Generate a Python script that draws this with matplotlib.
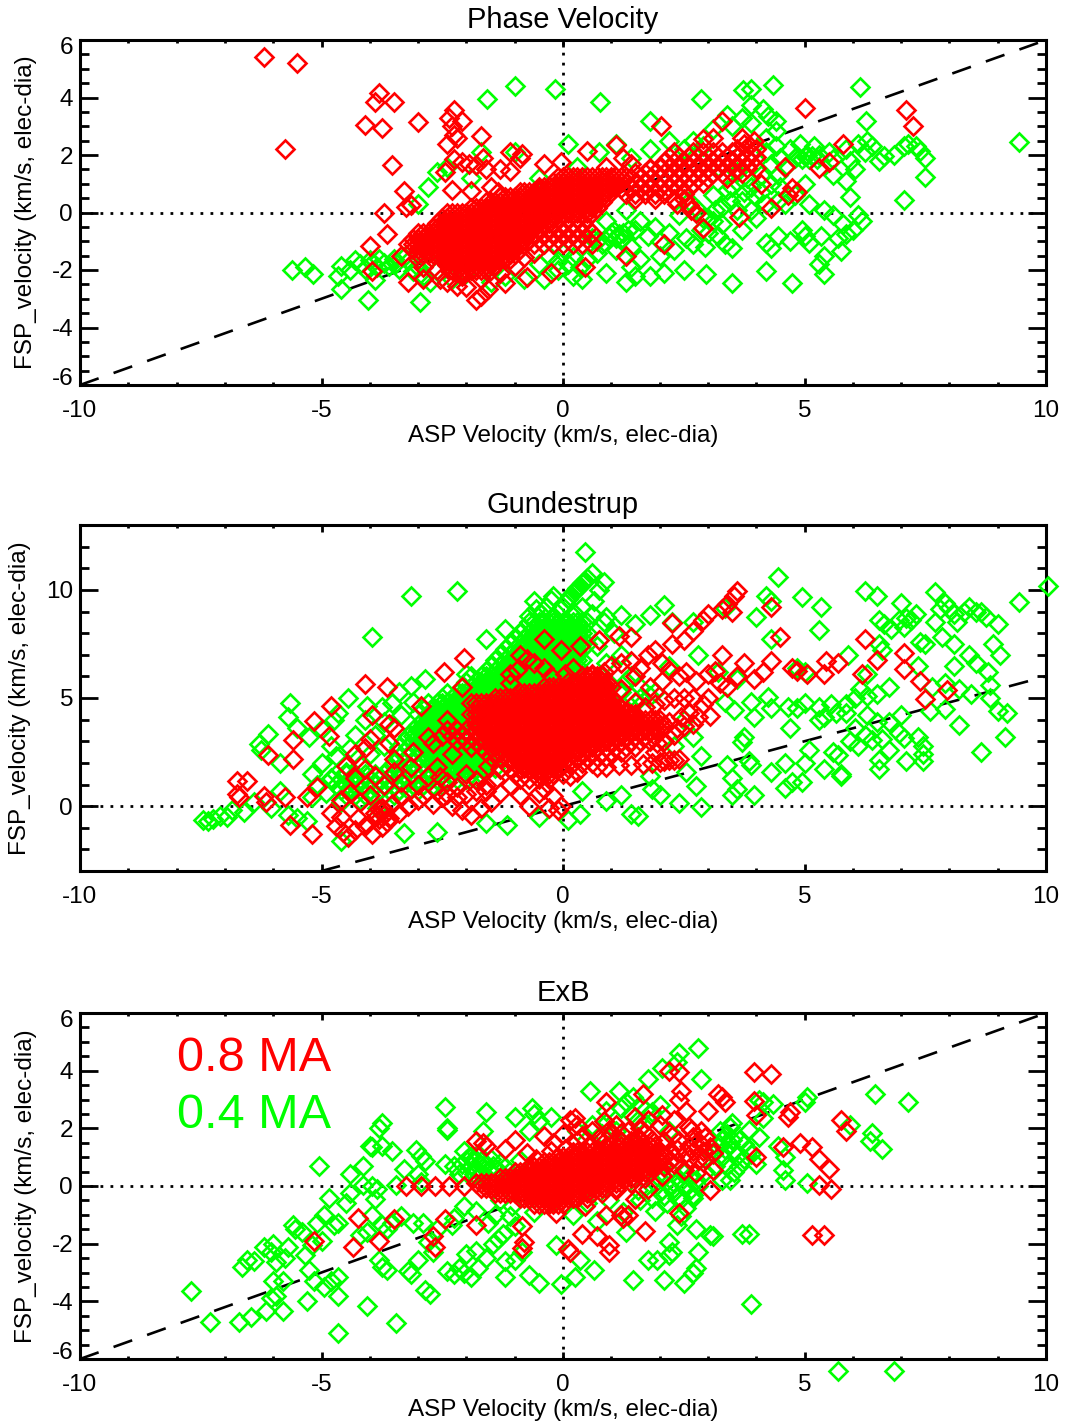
# -*- coding: utf-8 -*-
"""
ASP vs. FSP velocity comparison, three panels (0.8 MA / 0.4 MA)
Output: out.png
"""
import matplotlib
matplotlib.use('Agg')
import matplotlib.pyplot as plt
from matplotlib.transforms import ScaledTranslation
import numpy as np

plt.rcParams['font.family'] = ['Liberation Sans', 'DejaVu Sans']

# --- values (ASP, FSP) ---
phase_green = [
(-5.62,-2.0),(-5.34,-1.9),(-5.17,-2.15),(-4.6,-1.85),(-4.65,-2.2),(-4.6,-2.65),(-4.03,-3.05),(-2.96,-3.1),
(-4.4,-2.0),(-4.2,-1.8),(-4.0,-1.65),(-3.85,-1.9),(-3.7,-1.75),(-3.5,-1.6),(-3.4,-1.95),(-3.2,-1.7),(-3.0,-1.9),(-2.9,-2.2),(-3.9,-2.35),
(-4.3,-1.65),(-4.1,-1.95),(-3.95,-1.75),(-3.8,-1.6),(-3.6,-1.85),(-3.45,-1.75),(-3.3,-1.55),(-3.1,-2.05),(-2.8,-1.7),(-2.6,-2.0),(-2.75,-2.4),
(-3.0,0.3),(-2.8,0.9),(-2.6,1.4),(-2.4,1.6),(-2.3,-2.3),(-2.0,-2.1),(-1.7,2.1),(-1.9,1.2),(-1.58,3.95),(-0.99,4.4),(-0.17,4.3),(0.77,3.85),
(-1.0,2.1),(-0.5,1.2),(-0.3,0.9),(0.1,2.4),(0.3,1.6),(0.75,2.1),(1.1,2.4),(1.4,1.9),(1.8,3.2),(1.8,2.2),(2.2,2.5),(2.5,2.2),(2.7,2.5),
(-1.5,-2.4),(-1.2,-2.2),(-0.8,-2.3),(-0.4,-2.3),(-0.1,-2.0),(0.1,-1.8),(0.2,-2.2),(0.4,-2.3),(0.5,-1.6),(0.7,-1.4),(0.9,-2.1),(1.1,-1.3),(1.3,-2.4),(1.4,-1.9),(1.5,-2.2),(1.6,-1.6),(1.8,-2.2),(2.0,-1.5),(2.1,-2.1),(2.5,-2.0),(2.97,-2.15),(3.5,-2.45),(4.2,-2.05),(4.75,-2.45),(5.4,-2.15),(5.3,-1.8),(5.4,-1.5),
(-0.3,-1.5),(-0.1,-1.7),(0.0,-1.4),(0.2,-1.55),(-0.5,-1.8),(0.35,-1.9),(0.7,-1.0),(0.95,-0.85),(1.05,-0.65),(1.15,-0.75),(1.2,-0.95),(1.35,-0.6),
(0.6,-0.9),(0.8,-1.1),(1.0,-0.7),(1.1,-0.9),(1.25,-0.7),(1.4,-1.2),(1.5,-0.6),(1.6,-0.3),(1.75,-0.8),(1.9,-0.5),(2.0,-1.0),(2.2,-0.7),(2.3,-1.3),(2.4,-0.1),(2.55,-0.9),(2.7,-1.1),(2.85,-0.6),(2.95,-1.2),(3.1,-0.3),(3.2,-0.8),(3.35,-1.1),(3.5,-1.25),(3.7,-0.6),(0.9,-0.3),(1.3,0.1),
(2.6,0.4),(2.8,0.1),(3.0,-0.2),(3.1,0.6),(3.3,0.2),(3.5,0.9),(3.7,0.4),(3.9,0.1),(4.0,-0.2),(4.2,0.3),(4.5,0.9),(4.8,0.6),(5.0,1.0),(5.1,0.3),(5.4,0.1),(5.6,-0.1),(5.8,-0.4),(6.1,-0.1),(6.2,-0.3),(6.0,-0.6),(5.85,-0.75),(5.7,-0.9),(5.75,-1.35),
(2.9,-0.2),(3.0,-0.7),(3.15,0.1),(3.3,-0.4),(3.45,0.4),(3.6,0.1),(3.75,0.7),(3.95,0.6),(4.1,0.7),(4.3,1.0),(4.45,0.4),(4.6,0.3),(3.8,1.2),(4.3,1.7),(4.45,1.3),
(4.2,-1.05),(4.3,-1.25),(4.45,-0.8),(4.7,-1.0),(4.95,-0.6),(5.0,-0.8),(5.1,-1.05),(5.35,-0.8),
(2.86,3.95),(3.73,4.25),(3.89,4.3),(4.34,4.45),(3.9,3.75),(4.15,3.6),(4.25,3.35),(3.4,3.4),(3.7,3.3),(3.1,2.9),(3.5,3.0),(3.9,3.1),(4.4,3.2),(4.4,2.85),(4.2,2.6),(6.15,4.35),(6.27,3.2),
(2.9,2.3),(3.2,1.6),(3.4,0.8),(3.6,1.4),(3.9,0.9),(4.1,1.3),(4.2,2.1),(4.4,2.3),(4.5,1.9),(4.6,1.6),(4.7,2.2),(4.8,1.9),(4.9,2.4),(5.0,1.95),(5.1,1.85),(5.2,2.3),(5.3,2.0),(5.5,2.1),(5.6,1.85),(5.85,2.2),(5.95,1.8),(6.05,1.5),(6.1,2.4),(6.25,2.1),(6.3,2.5),(6.4,2.3),(6.55,1.8),(6.65,1.95),(6.85,2.0),(7.05,2.3),(7.15,2.4),(7.3,2.3),(7.4,2.15),(7.5,1.9),(7.5,1.25),(7.05,0.45),
(4.85,1.95),(4.95,1.85),(5.05,2.0),(5.15,1.95),(5.25,1.85),
(5.6,1.3),(5.85,1.1),(5.95,0.55),(9.44,2.45),
]
phase_red = [
(-6.2,5.4),(-5.5,5.2),(-3.8,4.15),(-3.9,3.85),(-3.5,3.85),(-4.1,3.05),(-3.75,2.95),(-3.0,3.15),(-5.75,2.2),(-3.55,1.65),
(-2.25,3.55),(-2.35,3.3),(-2.3,3.0),(-2.1,3.2),(-2.25,2.7),(-2.2,2.6),(-2.4,2.4),(-1.7,2.65),(-2.25,1.85),(-2.45,1.4),(-2.1,1.75),(-1.95,1.7),(-1.8,1.65),(-1.65,1.9),(-1.6,1.5),(-1.3,1.5),(-1.1,1.45),(-1.1,2.1),(-0.9,1.9),(-0.85,2.05),(-0.4,1.7),(-0.05,1.75),(0.5,2.15),(0.9,1.6),(1.1,2.35),(1.25,1.9),(1.4,1.7),(1.8,1.5),
(-3.3,0.75),(-3.25,0.2),(-3.15,0.25),(-3.7,0.0),(-3.65,-0.75),(-4.0,-1.15),(-3.35,-1.5),(-3.95,-2.05),(-3.2,-2.4),(-2.9,-2.3),(-2.55,-2.3),(-2.4,-2.4),(-2.2,-2.55),(-2.0,-2.6),(-1.8,-3.05),(-1.7,-2.9),(-1.55,-2.65),(-1.2,-2.45),(-0.75,-2.25),(-0.25,-2.1),(0.45,-1.9),(-2.3,0.8),(-1.9,0.75),(-1.5,0.9),(-1.35,0.7),(-0.9,0.7),(-0.5,0.8),
(-1.3,-2.1),(-1.7,-2.3),(-2.1,-2.2),(-1.0,-1.85),(-0.8,-1.55),(-0.6,-1.4),(-2.9,-1.9),(-2.6,-2.0),(-3.0,-1.6),
(3.6,2.2),(3.7,2.6),(3.85,2.35),(3.95,2.5),(4.0,2.2),(3.75,2.4),(2.65,0.1),(2.75,0.0),(2.6,0.25),(2.35,0.3),
(3.1,2.6),(2.9,2.55),(3.3,3.2),(2.03,3.0),(4.3,0.15),(4.1,1.0),(3.65,-0.15),(2.9,-0.55),(2.1,-1.1),(1.3,-1.5),(5.0,3.65),(7.1,3.55),(7.25,3.0),(5.8,2.4),(5.5,1.75),(5.3,1.55),(4.6,1.6),(4.75,0.85),(4.65,0.6),(4.85,0.7),
]
# dense part of the red cloud, given row by row: (FSP, [ASP, ...])
phase_red_core = [
(1.25,[-0.1,0.0,0.1,0.2,0.3,0.4,0.5,0.6,0.7,0.8,0.9,1.0,1.1,1.2,1.3]),
(1.07,[-0.2,-0.1,0.0,0.1,0.2,0.3,0.4,0.5,0.6,0.7,0.8,0.9,1.0,1.1,1.2]),
(0.89,[-0.5,-0.4,-0.3,-0.2,-0.1,0.0,0.1,0.2,0.3,0.4,0.5,0.6,0.7,0.8,0.9,1.0,1.1]),
(0.71,[-0.8,-0.7,-0.6,-0.5,-0.4,-0.3,-0.2,-0.1,0.0,0.1,0.2,0.3,0.4,0.5,0.6,0.7,0.8,0.9,1.0]),
(0.53,[-1.3,-1.2,-1.1,-1.0,-0.9,-0.8,-0.7,-0.6,-0.5,-0.4,-0.3,-0.2,-0.1,0.0,0.1,0.2,0.3,0.4,0.5,0.6,0.7,0.8,0.9]),
(0.35,[-1.6,-1.5,-1.4,-1.3,-1.2,-1.1,-1.0,-0.9,-0.8,-0.7,-0.6,-0.5,-0.4,-0.3,-0.2,-0.1,0.0,0.1,0.2,0.3,0.4,0.5,0.6,0.7,0.8]),
(0.17,[-1.9,-1.8,-1.7,-1.6,-1.5,-1.4,-1.3,-1.2,-1.1,-1.0,-0.9,-0.8,-0.7,-0.6,-0.5,-0.4,-0.3,-0.2,-0.1,0.0,0.1,0.2,0.3,0.4,0.5,0.6,0.7]),
(-0.01,[-2.4,-2.3,-2.2,-2.1,-2.0,-1.9,-1.8,-1.7,-1.6,-1.5,-1.4,-1.3,-1.2,-1.1,-1.0,-0.9,-0.8,-0.7,-0.6,-0.5,-0.4,-0.3,-0.2,-0.1,0.0,0.1,0.2,0.3,0.4,0.5,0.6]),
(-0.19,[-2.5,-2.4,-2.3,-2.2,-2.1,-2.0,-1.9,-1.8,-1.7,-1.6,-1.5,-1.4,-1.3,-1.2,-1.1,-1.0,-0.9,-0.8,-0.7,-0.6,-0.5,-0.4,-0.3,-0.2,-0.1,0.1,0.3,0.5]),
(-0.37,[-2.6,-2.5,-2.4,-2.3,-2.2,-2.1,-2.0,-1.9,-1.8,-1.7,-1.6,-1.5,-1.4,-1.3,-1.2,-1.1,-1.0,-0.9,-0.8,-0.7,-0.6,-0.5,-0.4,-0.3,-0.2,0.0,0.2,0.4]),
(-0.55,[-2.7,-2.6,-2.5,-2.4,-2.3,-2.2,-2.1,-2.0,-1.9,-1.8,-1.7,-1.6,-1.5,-1.4,-1.3,-1.2,-1.1,-1.0,-0.9,-0.8,-0.7,-0.6,-0.5,-0.3,-0.1,0.1,0.3,0.5]),
(-0.73,[-3.0,-2.9,-2.8,-2.7,-2.6,-2.5,-2.4,-2.3,-2.2,-2.1,-2.0,-1.9,-1.8,-1.7,-1.6,-1.5,-1.4,-1.3,-1.2,-1.1,-1.0,-0.9,-0.8,-0.7,-0.6,-0.4,-0.2,0.0,0.2,0.4,0.6]),
(-0.91,[-3.1,-3.0,-2.9,-2.8,-2.7,-2.6,-2.5,-2.4,-2.3,-2.2,-2.1,-2.0,-1.9,-1.8,-1.7,-1.6,-1.5,-1.4,-1.3,-1.2,-1.1,-1.0,-0.9,-0.8,-0.7,-0.5,-0.3,-0.1,0.1,0.3,0.5]),
(-1.09,[-3.2,-3.1,-3.0,-2.9,-2.8,-2.7,-2.6,-2.5,-2.4,-2.3,-2.2,-2.1,-2.0,-1.9,-1.8,-1.7,-1.6,-1.5,-1.4,-1.3,-1.2,-1.1,-1.0,-0.9,-0.8,-0.6,-0.4,-0.2,0.0,0.2,0.4,0.6]),
(-1.27,[-3.1,-3.0,-2.9,-2.8,-2.7,-2.6,-2.5,-2.4,-2.3,-2.2,-2.1,-2.0,-1.9,-1.8,-1.7,-1.6,-1.5,-1.4,-1.3,-1.2,-1.1,-1.0,-0.9]),
(-1.45,[-3.0,-2.9,-2.8,-2.7,-2.6,-2.5,-2.4,-2.3,-2.2,-2.1,-2.0,-1.9,-1.8,-1.7,-1.6,-1.5,-1.4,-1.3,-1.2,-1.1,-1.0]),
(-1.63,[-2.5,-2.4,-2.3,-2.2,-2.1,-2.0,-1.9,-1.8,-1.7,-1.6,-1.5,-1.4,-1.3,-1.2,-1.1]),
(-1.81,[-2.4,-2.3,-2.2,-2.1,-2.0,-1.9,-1.8,-1.7,-1.6,-1.5,-1.4]),
(-1.99,[-2.3,-2.2,-2.1,-2.0,-1.9,-1.8,-1.7,-1.6,-1.5]),
# right-hand branch, looser
(2.1,[2.3,2.7,2.9,3.1,3.3,3.5,3.7,3.9]),
(1.92,[2.2,2.4,2.6,2.8,3.0,3.2,3.4,3.6,3.8,4.0]),
(1.74,[2.1,2.3,2.5,2.7,2.9,3.1,3.3,3.5,3.7,3.9]),
(1.56,[1.8,2.0,2.2,2.4,2.6,2.8,3.0,3.2,3.4,3.6,3.8,4.0]),
(1.38,[1.5,1.7,1.9,2.1,2.3,2.5,2.7,2.9,3.1,3.3,3.5,3.7]),
(1.2,[1.4,1.6,1.8,2.0,2.2,2.4,2.6,2.8,3.0,3.4]),
(1.02,[1.3,1.5,1.7,1.9,2.1,2.3,2.5,2.7,2.9]),
(0.84,[1.2,1.4,1.6,1.8,2.0,2.2,2.4,2.6]),
(0.66,[1.3,1.5,1.7,1.9,2.1,2.5]),
(0.48,[1.5,1.9,2.3,2.5]),
]
gund_green = [
(-7.45,-0.65),(-7.35,-0.7),(-7.25,-0.6),(-7.1,-0.45),(-6.95,-0.5),(-6.85,-0.2),(-6.6,-0.25),(-6.4,0.2),(-6.05,-0.1),(-5.85,0.7),
(-5.7,-0.4),(-5.5,-0.55),(-5.3,-0.7),(-5.2,0.4),(-4.6,-1.6),(-3.3,-1.25),(-2.6,-1.2),(-1.6,-0.8),(-1.15,-0.85),(-0.5,-0.5),(0.1,-0.65),(0.35,-0.35),(1.4,-0.35),(1.55,-0.45),(2.4,0.15),(2.85,-0.05),(0.9,0.25),(1.2,0.5),(0.4,0.7),
(-6.3,2.85),(-6.25,2.6),(-6.1,3.35),(-5.85,2.0),(-5.65,4.75),(-5.7,4.1),(-5.5,3.6),(-5.25,3.2),(-5.0,3.55),(-4.8,2.8),(-4.75,4.0),(-4.65,4.3),(-4.45,5.0),(-4.1,4.0),(-4.05,4.65),(-3.75,4.6),(-3.55,4.75),(-3.4,5.3),(-3.15,5.55),(-2.85,5.9),(-2.0,6.1),(-3.95,7.8),(-3.15,9.7),(-2.2,9.95),(-1.6,7.75),(-1.2,8.2),
(-5.2,1.5),(-5.1,1.0),(-5.0,2.0),(-4.9,0.6),(-4.8,1.3),(-4.7,2.3),(-4.6,0.2),(-4.5,1.6),(-4.4,2.7),(-4.4,0.9),(-4.3,3.3),(-4.2,1.9),(-4.2,0.3),(-4.0,2.4),(-3.9,3.3),(-3.85,-0.1),(-3.7,3.9),(-3.7,2.8),(-3.35,4.2),(-3.1,4.8),
(-0.6,9.5),(-0.45,8.9),(-0.35,9.2),(-0.25,9.55),(-0.2,8.8),(-0.2,9.7),(-0.05,9.1),(0.05,9.4),(0.1,9.6),(0.15,9.7),(0.2,9.85),(0.25,9.95),(0.3,10.1),(0.35,10.2),(0.4,10.3),(0.4,9.2),(0.45,10.4),(0.5,10.55),(0.6,10.8),(0.6,8.9),(0.65,9.5),(0.85,10.35),(0.75,10.0),(0.45,11.75),(0.25,8.9),(-0.7,8.8),(-0.55,9.1),
(0.7,7.4),(0.85,8.5),(0.9,8.75),(1.05,8.0),(1.2,8.85),(1.5,8.4),(1.8,8.85),(2.1,9.3),(2.25,8.5),(2.7,8.5),(3.35,9.15),(0.9,6.6),(1.2,7.0),(1.4,6.0),(1.6,5.5),(1.9,5.3),(2.2,6.5),(2.8,7.0),(3.2,6.2),(3.6,5.9),(3.35,4.8),(3.55,4.45),(3.9,4.8),(3.95,4.1),(3.75,3.2),(3.7,2.95),
(1.0,5.6),(1.2,5.3),(1.4,5.1),(1.6,5.0),(1.8,5.1),(1.3,5.8),
(2.5,4.0),(2.7,3.2),(2.3,2.8),(2.85,2.3),(3.4,1.9),(2.55,1.6),(2.75,0.95),(1.8,1.4),(1.85,0.8),(2.0,0.5),(3.5,1.3),(3.6,0.8),(3.5,0.5),(3.95,0.5),(3.9,1.9),(3.85,2.1),(4.3,1.6),(4.6,2.0),(4.6,0.85),(4.75,1.1),(4.95,1.1),(5.0,2.0),(5.1,2.6),(5.4,1.7),(5.75,1.5),(5.75,1.4),(5.7,2.35),(5.6,2.5),(6.55,2.15),(6.75,2.6),(6.55,1.7),(7.1,2.1),(7.45,2.4),(7.45,2.1),(7.45,2.8),(8.65,2.5),(9.15,3.2),(8.2,3.75),
(4.3,4.55),(4.25,5.05),(4.65,4.6),(4.85,4.55),(5.0,4.75),(5.3,4.6),(5.55,4.7),(5.85,4.7),(5.3,4.0),(5.4,4.1),(5.65,4.3),(4.7,3.6),(5.85,4.3),(6.05,3.6),(6.3,4.2),(6.5,3.9),(6.75,3.9),(6.25,3.3),(6.4,3.05),(6.6,3.1),(5.95,3.0),(6.1,2.8),(6.95,3.4),(7.05,3.15),(7.35,3.2),(7.0,4.2),(7.6,4.4),(7.9,4.5),(6.3,5.1),(6.5,5.2),(6.75,5.5),(6.15,5.4),(6.3,6.1),(6.05,5.0),(7.35,6.5),(7.65,5.5),(7.9,5.7),(8.2,5.4),(8.45,5.2),(8.85,5.6),(8.85,5.0),(9.0,4.4),(9.2,4.3),
(4.0,8.75),(4.2,9.7),(4.3,9.5),(4.45,10.6),(4.95,9.65),(5.35,9.2),(5.3,8.15),(4.3,7.75),(4.85,6.4),(5.0,6.2),(5.9,7.0),(6.25,9.95),(6.5,9.7),(6.55,8.6),(6.65,8.4),(6.8,8.2),(6.95,8.6),(7.0,9.4),(7.1,8.7),(7.05,8.3),(7.2,8.6),(7.3,8.9),(7.4,7.6),(7.5,7.5),(6.55,7.5),(6.6,7.2),(7.7,8.5),(7.7,9.9),(7.8,9.1),(7.9,9.4),(8.0,9.15),(8.1,8.9),(8.15,8.5),(8.3,9.0),(8.4,9.2),(8.55,9.0),(8.65,9.0),(8.75,8.75),(8.9,7.5),(9.05,7.0),(9.0,8.4),(9.45,9.45),(10.05,10.2),(7.85,7.8),(8.1,7.5),(8.4,7.0),(8.1,6.5),(8.55,6.6),(8.8,6.2),
]
gund_green_core = [
(8.5,[-0.7,-0.6,-0.5,-0.4,-0.3,-0.2,-0.1,0.0,0.1,0.2,0.3,0.4,0.5]),
(8.25,[-0.8,-0.6,-0.5,-0.4,-0.3,-0.2,-0.1,0.0,0.1,0.2,0.3,0.4]),
(8.0,[-0.9,-0.7,-0.6,-0.5,-0.4,-0.3,-0.2,-0.1,0.0,0.1,0.2,0.3,0.4,0.5]),
(7.75,[-1.0,-0.8,-0.7,-0.6,-0.5,-0.4,-0.3,-0.2,-0.1,0.0,0.1,0.2,0.3,0.4]),
(7.5,[-1.1,-0.9,-0.8,-0.7,-0.6,-0.5,-0.4,-0.3,-0.2,-0.1,0.0,0.1,0.2,0.3,0.4,0.5]),
(7.25,[-1.2,-1.0,-0.9,-0.8,-0.7,-0.6,-0.5,-0.4,-0.3,-0.2,-0.1,0.0,0.1,0.2,0.3,0.4]),
(7.0,[-1.3,-1.1,-1.0,-0.9,-0.8,-0.7,-0.6,-0.5,-0.4,-0.3,-0.2,-0.1,0.0,0.1,0.2,0.3]),
(6.75,[-1.4,-1.2,-1.1,-1.0,-0.9,-0.8,-0.7,-0.6,-0.5,-0.4,-0.3,-0.2,-0.1,0.0,0.1,0.2,0.3,0.4]),
(6.5,[-1.5,-1.3,-1.2,-1.1,-1.0,-0.9,-0.8,-0.7,-0.6,-0.5,-0.4,-0.3,-0.2,-0.1,0.0,0.1,0.2,0.3]),
(6.25,[-1.6,-1.4,-1.3,-1.2,-1.1,-1.0,-0.9,-0.8,-0.7,-0.6,-0.5,-0.4,-0.3,-0.2,-0.1,0.0,0.1,0.2]),
(6.0,[-1.9,-1.7,-1.6,-1.5,-1.4,-1.3,-1.2,-1.1,-1.0,-0.9,-0.8,-0.7,-0.6,-0.5,-0.4,-0.3,-0.2,-0.1,0.0,0.1]),
(5.75,[-2.0,-1.8,-1.7,-1.6,-1.5,-1.4,-1.3,-1.2,-1.1,-1.0,-0.9,-0.8,-0.7,-0.6,-0.4,-0.2,0.0]),
(5.5,[-2.1,-1.9,-1.8,-1.7,-1.6,-1.5,-1.4,-1.3,-1.2,-1.1,-1.0,-0.9,-0.7,-0.5]),
(5.25,[-2.4,-2.2,-2.1,-2.0,-1.9,-1.8,-1.7,-1.6,-1.5,-1.4,-1.3,-1.2,-1.0]),
(5.0,[-2.5,-2.3,-2.2,-2.1,-2.0,-1.9,-1.8,-1.7,-1.6,-1.5]),
(4.75,[-2.8,-2.6,-2.5,-2.4,-2.3,-2.2,-2.1,-2.0,-1.9,-1.8]),
(4.5,[-2.9,-2.7,-2.6,-2.5,-2.4,-2.3,-2.2,-2.1,-2.0,-1.9]),
(4.25,[-3.0,-2.8,-2.7,-2.6,-2.5,-2.4,-2.3,-2.2,-2.1,-2.0,-1.8]),
(4.0,[-2.9,-2.8,-2.7,-2.6,-2.5,-2.4,-2.3,-2.2,-2.1,-2.0,-1.9]),
(3.75,[-3.0,-2.9,-2.8,-2.7,-2.6,-2.5,-2.4,-2.3,-2.2,-2.1,-2.0]),
(3.5,[-3.1,-3.0,-2.9,-2.8,-2.7,-2.6,-2.5,-2.4,-2.3]),
(3.25,[-3.2,-3.1,-3.0,-2.9,-2.8,-2.7,-2.6]),
(3.0,[-3.3,-3.1,-3.0,-2.9,-2.8,-2.7,-2.6,-2.5,-2.4,-2.3]),
(2.75,[-3.4,-3.2,-3.0,-2.9,-2.8,-2.7,-2.6,-2.5,-2.4,-2.3,-2.2,-2.1,-2.0,-1.9,-1.8]),
(2.5,[-3.3,-3.1,-2.9,-2.8,-2.7,-2.6,-2.5,-2.4,-2.3,-2.2,-2.1,-2.0,-1.9,-1.8,-1.7]),
(2.25,[-3.4,-3.2,-3.0,-2.8,-2.7,-2.6,-2.5,-2.4,-2.3,-2.2,-2.1,-2.0,-1.9,-1.8,-1.7,-1.6,-1.5,-1.4]),
(2.0,[-3.5,-3.3,-3.1,-2.9,-2.7,-2.6,-2.5,-2.4,-2.3,-2.2,-2.1,-2.0,-1.9,-1.8,-1.7,-1.6,-1.5]),
(1.75,[-3.6,-3.4,-3.2,-3.0,-2.8,-2.6,-2.5,-2.4,-2.3,-2.2,-2.1,-2.0,-1.9,-1.8,-1.7,-1.6,-1.4]),
(1.5,[-4.7,-4.5,-4.3,-4.1,-3.9,-3.7,-3.5,-3.3,-3.1,-2.9,-2.7,-2.5,-2.3,-2.1,-1.9,-1.7]),
(1.25,[-4.8,-4.6,-4.4,-4.2,-4.0,-3.8,-3.6,-3.4,-3.2,-3.0,-2.8,-2.6,-2.4,-2.2,-2.0,-1.8]),
(1.0,[-4.7,-4.5,-4.3,-4.1,-3.9,-3.7,-3.5,-3.3,-3.1,-2.9,-2.7,-2.5]),
(0.75,[-4.6,-4.4,-4.2,-4.0,-3.8,-3.6,-3.4,-3.2,-3.0]),
(0.5,[-4.5,-4.3,-4.1,-3.9,-3.7,-3.5]),
]
gund_red = [
(-6.75,1.15),(-6.55,1.15),(-6.75,0.55),(-6.7,0.4),(-6.2,0.45),(-6.15,0.2),(-5.75,0.4),(-6.1,2.35),(-5.6,3.05),(-5.6,2.2),(-5.65,-0.85),(-5.2,-1.3),(-5.15,3.95),(-4.85,3.25),(-4.8,4.65),(-5.1,0.9),(-5.3,0.4),(-4.1,5.65),(-3.65,5.5),(-3.95,4.2),(-3.6,3.8),(-3.5,3.6),(-2.95,4.65),(-2.47,6.2),(-2.05,6.85),(-2.1,5.5),(-2.4,4.0),(-4.0,3.1),(-3.6,2.9),
(-4.8,-0.3),(-4.7,-0.9),(-4.55,-1.2),(-4.45,-1.45),(-4.3,-1.1),(-4.1,-0.9),(-3.95,-1.3),(-3.75,-0.95),(-3.6,-0.55),(-4.6,0.3),(-4.4,0.6),(-4.2,0.2),(-4.0,0.5),(-3.9,-0.3),(-3.8,-0.6),(-3.7,-0.2),(-3.55,0.1),(-3.35,0.4),(-3.2,0.0),(-3.0,0.3),(-2.9,0.5),(-2.7,0.1),(-2.5,0.4),(-2.3,0.0),(-2.1,-0.2),(-1.9,-0.4),(-1.7,-0.1),(-1.5,0.2),(-1.3,0.6),(-1.1,1.0),(-0.9,0.5),(-0.7,0.0),(-0.5,0.6),(-0.3,-0.1),(-0.1,-0.2),(-0.05,0.0),
(-4.5,1.85),(-4.3,1.3),(-4.1,1.7),(-3.9,1.4),(-3.7,1.0),(-3.5,1.6),(-3.35,1.1),(-3.15,1.8),(-3.0,1.0),(-2.8,1.4),(-2.6,1.8),(-2.4,1.1),(-2.2,0.9),(-2.0,1.5),(-1.8,1.2),(-1.6,0.7),(-1.4,1.2),(-4.3,2.4),(-4.1,2.7),(-3.5,2.2),(-3.1,2.5),(-2.8,3.2),(-2.7,2.9),(-2.3,2.4),(-2.2,3.0),(-0.4,0.8),(-0.2,0.45),
(-3.85,-0.45),(-3.75,-0.1),(-3.7,-0.4),(-3.8,-0.15),(-3.65,-0.75),(-2.6,0.7),(-2.4,0.55),(-2.2,0.4),(-2.0,0.55),(-1.8,0.7),(-1.6,1.0),(-4.6,-0.5),(-4.25,-0.55),(-3.4,-0.3),
(-0.9,7.0),(-0.75,6.8),(-0.6,6.6),(-0.4,6.4),(-0.25,6.0),(-1.1,6.1),(-0.95,6.3),(-1.1,5.7),(-0.4,7.75),(-0.05,7.2),(0.35,7.4),(0.75,7.7),(1.15,7.85),(1.4,7.8),(0.05,6.1),(0.2,6.4),(0.5,5.8),(0.6,6.1),(0.85,6.2),(1.0,6.5),(1.2,6.6),(1.4,6.7),(1.6,6.4),(1.75,7.0),(1.9,7.2),(2.05,6.6),(2.25,7.5),(2.5,7.7),(2.7,8.1),(2.9,8.6),(3.0,8.9),(3.3,9.1),(3.4,9.35),(3.55,9.7),(3.6,9.95),(3.5,9.0),
(2.25,8.45),(4.3,9.2),(4.5,7.8),(3.3,7.0),(3.75,6.6),(3.6,6.0),(3.95,5.9),(4.15,6.2),(4.3,6.7),(4.75,6.4),(4.85,6.25),(5.05,6.1),(5.4,6.1),(5.45,6.7),(5.7,6.6),(6.2,6.1),(6.25,7.75),(6.5,6.75),(7.05,7.1),(7.05,6.35),(7.4,5.8),(7.5,4.95),(7.95,5.35),
(2.2,6.3),(2.4,6.0),(2.55,6.2),(2.75,5.8),(3.0,6.1),(3.15,6.25),(3.4,5.5),(3.25,5.7),(3.0,5.0),(2.9,4.7),(2.7,5.0),(2.5,5.0),(2.3,5.0),(2.1,4.9),(1.9,4.7),(1.7,4.6),(1.5,4.8),(2.05,5.8),(1.8,5.5),(1.2,5.4),(1.5,6.0),(2.8,4.1),(2.6,4.3),(2.45,4.1),(3.05,4.15),(2.2,3.9),(2.35,3.6),
(2.4,2.2),(2.3,2.15),(2.2,2.15),(2.1,2.1),(2.0,2.05),(1.85,2.0),(1.65,1.95),(1.4,1.9),(1.15,1.9),(0.9,1.8),(0.7,1.8),(0.3,1.6),(0.15,1.4),(-1.3,1.7),(-1.55,1.85),(-2.55,1.35),
(1.9,2.5),(2.1,3.0),(2.3,3.3),(2.5,3.7),(2.7,3.8),(1.95,2.9),
]
gund_red_core = [
(6.0,[0.4,0.5,0.6,0.7,0.8]),
(5.75,[0.1,0.2,0.3,0.4,0.5,0.6,0.7,0.8,0.9]),
(5.5,[-0.4,-0.3,-0.2,-0.1,0.0,0.1,0.2,0.3,0.4,0.5,0.6,0.7,0.8,0.9,1.0]),
(5.25,[-0.9,-0.8,-0.7,-0.6,-0.5,-0.4,-0.3,-0.2,-0.1,0.0,0.1,0.2,0.3,0.4,0.5,0.6,0.7,0.8,0.9]),
(5.0,[-1.4,-1.3,-1.2,-1.1,-1.0,-0.9,-0.8,-0.7,-0.6,-0.5,-0.4,-0.3,-0.2,-0.1,0.0,0.1,0.2,0.3,0.4,0.5,0.6,0.7,0.8,0.9,1.0]),
(4.75,[-1.9,-1.8,-1.7,-1.6,-1.5,-1.4,-1.3,-1.2,-1.1,-1.0,-0.9,-0.8,-0.7,-0.6,-0.5,-0.4,-0.3,-0.2,-0.1,0.0,0.1,0.2,0.3,0.4,0.5,0.6,0.7,0.8,0.9,1.0,1.1]),
(4.5,[-1.8,-1.7,-1.6,-1.5,-1.4,-1.3,-1.2,-1.1,-1.0,-0.9,-0.8,-0.7,-0.6,-0.5,-0.4,-0.3,-0.2,-0.1,0.0,0.1,0.2,0.3,0.4,0.5,0.6,0.7,0.8,0.9,1.0,1.1,1.2]),
(4.25,[-1.9,-1.8,-1.7,-1.6,-1.5,-1.4,-1.3,-1.2,-1.1,-1.0,-0.9,-0.8,-0.7,-0.6,-0.5,-0.4,-0.3,-0.2,-0.1,0.0,0.1,0.2,0.3,0.4,0.5,0.6,0.7,0.8,0.9,1.0,1.1,1.2,1.3,1.4,1.5]),
(4.0,[-1.8,-1.7,-1.6,-1.5,-1.4,-1.3,-1.2,-1.1,-1.0,-0.9,-0.8,-0.7,-0.6,-0.5,-0.4,-0.3,-0.2,-0.1,0.0,0.1,0.2,0.3,0.4,0.5,0.6,0.7,0.8,0.9,1.0,1.1,1.2,1.3,1.4,1.5,1.6,1.7,1.8,1.9,2.0]),
(3.75,[-1.9,-1.8,-1.7,-1.6,-1.5,-1.4,-1.3,-1.2,-1.1,-1.0,-0.9,-0.8,-0.7,-0.6,-0.5,-0.4,-0.3,-0.2,-0.1,0.0,0.1,0.2,0.3,0.4,0.5,0.6,0.7,0.8,0.9,1.0,1.1,1.2,1.3,1.4,1.5,1.6,1.7,1.8,1.9,2.0,2.1]),
(3.5,[-2.4,-2.2,-2.0,-1.8,-1.7,-1.6,-1.5,-1.4,-1.3,-1.2,-1.1,-1.0,-0.9,-0.8,-0.7,-0.6,-0.5,-0.4,-0.3,-0.2,-0.1,0.0,0.1,0.2,0.3,0.4,0.5,0.6,0.7,0.8,0.9,1.0,1.1,1.2,1.3,1.4,1.5,1.6,1.7,1.8,1.9,2.0]),
(3.25,[-2.5,-2.3,-2.1,-1.9,-1.7,-1.6,-1.5,-1.4,-1.3,-1.2,-1.1,-1.0,-0.9,-0.8,-0.7,-0.6,-0.5,-0.4,-0.3,-0.2,-0.1,0.0,0.1,0.2,0.3,0.4,0.5,0.6,0.7,0.8,0.9,1.0,1.1,1.2,1.3,1.5,1.7,1.9]),
(3.0,[-2.2,-2.0,-1.8,-1.6,-1.5,-1.4,-1.3,-1.2,-1.1,-1.0,-0.9,-0.8,-0.7,-0.6,-0.5,-0.4,-0.3,-0.2,-0.1,0.0,0.1,0.2,0.3,0.4,0.5,0.6,0.7,0.8,0.9,1.0,1.2,1.4,1.6,1.8]),
(2.75,[-1.9,-1.7,-1.5,-1.4,-1.3,-1.2,-1.1,-1.0,-0.9,-0.8,-0.7,-0.6,-0.5,-0.4,-0.3,-0.2,-0.1,0.0,0.1,0.2,0.3,0.4,0.5,0.6,0.7,0.9,1.1,1.3,1.5]),
(2.5,[-1.6,-1.4,-1.3,-1.2,-1.1,-1.0,-0.9,-0.8,-0.7,-0.6,-0.5,-0.4,-0.3,-0.2,-0.1,0.0,0.1,0.2,0.3,0.4,0.6,0.8,1.0,1.2]),
(2.25,[-1.5,-1.3,-1.1,-1.0,-0.9,-0.8,-0.7,-0.6,-0.5,-0.4,-0.3,-0.2,-0.1,0.0,0.1,0.3,0.5,0.7,0.9]),
(2.0,[-1.2,-1.0,-0.9,-0.8,-0.7,-0.6,-0.5,-0.4,-0.3,-0.2,-0.1,0.0,0.2,0.4,0.6]),
(1.75,[-1.1,-0.9,-0.8,-0.7,-0.6,-0.5,-0.4,-0.3,-0.2,-0.1,0.1]),
(1.5,[-1.0,-0.8,-0.6,-0.5,-0.4,-0.3,-0.2,0.0]),
(1.25,[-0.9,-0.7,-0.5,-0.3]),
]
exb_green = [
(-7.7,-3.65),(-7.3,-4.7),(-6.7,-4.7),(-6.45,-4.55),(-6.15,-4.35),(-5.8,-4.35),(-6.05,-3.9),(-5.95,-3.8),(-5.3,-4.0),(-4.65,-3.8),(-4.65,-5.1),(-4.05,-4.15),(-3.45,-4.75),(-2.85,-3.6),(-2.75,-3.75),(-6.65,-2.8),(-6.55,-2.55),(-6.4,-2.6),(-6.05,-2.3),(-6.2,-2.1),(-6.0,-2.0),(-5.95,-2.65),(-5.75,-2.5),(-5.55,-1.5),(-5.6,-1.35),(-5.7,-2.1),(-5.4,-1.6),(-5.35,-2.4),(-5.2,-2.05),(-5.0,-1.9),(-5.25,-2.9),(-5.1,-1.3),(-4.95,-1.0),(-4.75,-1.35),(-4.65,-1.3),(-6.0,-3.3),(-5.8,-3.3),(-5.15,-3.3),(-4.95,-3.5),(-4.8,-3.3),(-4.65,-3.15),
(-5.05,0.7),(-4.4,0.4),(-4.15,0.7),(-4.15,0.05),(-3.85,-0.1),(-4.4,-0.25),(-4.85,-0.4),(-4.5,-0.6),(-3.9,-0.45),(-3.45,0.05),(-3.3,0.6),(-3.0,0.4),(-2.95,0.15),(-3.05,1.25),(-2.95,1.05),(-2.85,0.85),(-3.75,1.4),(-3.55,1.2),(-4.0,1.4),(-3.95,1.35),(-3.8,2.0),(-3.75,2.2),(-3.95,0.0),(-2.45,2.75),(-2.4,2.0),(-2.4,1.95),(-2.45,0.75),(-2.05,1.2),(-1.95,1.0),(-2.25,0.7),(-2.15,0.4),(-1.8,0.9),(-1.75,1.1),(-1.65,0.65),(-1.85,0.4),(-1.6,2.55),
(-2.1,0.75),(-2.0,0.9),(-1.9,0.7),(-1.8,0.6),(-1.7,0.85),(-1.6,0.75),(-1.5,0.95),(-1.55,0.55),(-1.45,0.7),(-1.3,0.8),(-2.0,0.5),(-1.9,1.0),(-1.7,0.45),(-1.35,0.55),(-1.2,0.65),
(-3.95,-1.0),(-3.75,-1.35),(-3.55,-1.3),(-3.35,-1.05),(-3.1,-1.3),(-4.2,-1.7),(-4.05,-1.6),(-3.65,-1.5),(-2.9,-1.3),(-2.6,-1.5),(-2.3,-1.35),(-2.25,-1.1),(-2.05,-0.7),(-1.8,-0.85),(-1.55,-1.3),(-1.4,-1.0),(-1.25,-1.65),(-1.1,-1.05),(-1.0,-1.4),(-3.8,-2.55),(-3.75,-2.8),(-3.65,-2.9),(-3.2,-2.95),(-3.15,-3.05),(-3.0,-2.55),(-2.8,-1.95),(-2.7,-2.3),(-2.4,-2.95),(-2.25,-3.05),(-2.15,-2.85),(-2.05,-3.0),(-1.9,-3.15),(-1.75,-2.85),(-2.0,-2.35),(-1.8,-2.25),(-1.6,-2.5),(-1.45,-2.0),(-1.35,-1.85),(-1.2,-2.6),(-0.85,-2.3),(-1.0,-2.55),(-1.2,-3.15),(-0.7,-3.1),(-0.5,-3.35),(-0.15,-2.05),(-0.05,-3.4),(0.25,-3.15),(0.35,-2.55),(0.65,-2.9),(1.45,-3.25),(2.1,-3.25),(2.5,-3.35),(2.7,-3.0),(2.75,-2.85),(2.8,-2.3),(2.25,-2.3),(2.2,-2.4),(1.95,-2.55),(1.75,-2.55),(2.2,-1.95),(1.3,-1.6),(2.75,-1.5),(3.1,-1.75),(3.05,-1.7),(3.85,-1.65),(3.7,-1.65),(3.9,-4.1),(5.7,-6.4),(6.85,-6.4),
(-1.65,1.9),(-1.0,2.4),(-0.65,2.7),(-0.6,2.5),(-0.5,2.25),(-0.25,2.4),(-0.7,1.9),(0.55,3.3),(1.15,3.3),(1.3,2.9),(1.45,3.1),(1.6,2.8),(1.7,2.65),(1.75,3.7),(2.05,4.1),(2.4,4.6),(2.8,4.8),(2.85,3.7),(2.35,4.3),(1.65,2.1),(0.9,2.2),(2.2,1.9),
(1.2,2.7),(1.4,2.5),(1.55,2.3),(1.85,2.55),(2.0,2.8),(0.9,2.6),(0.6,2.1),(0.3,1.9),(1.1,1.9),
(-1.7,0.4),(-1.4,0.6),(-1.1,0.3),(-0.9,0.9),(-1.3,-0.5),(-1.05,-0.7),(-0.6,-0.9),(-0.2,-0.55),(0.2,-1.0),(0.5,-0.6),(0.7,-1.2),(0.95,-0.5),(1.25,-0.9),(1.6,-0.5),(1.9,-0.85),(2.15,-0.6),(2.35,-0.4),(2.55,-0.75),(2.65,-0.1),(2.3,0.1),(2.5,0.45),(2.75,0.2),(2.95,0.5),(3.15,0.7),(3.1,1.1),(3.35,1.3),(3.5,1.6),(3.6,1.05),(3.55,0.5),(3.65,0.7),(3.75,0.95),(3.9,1.1),(3.75,1.45),(3.85,1.95),(4.05,1.7),(4.0,0.75),(3.85,1.25),(3.5,2.2),(3.45,2.05),(3.25,1.9),(3.3,0.2),(3.45,0.2),
(1.9,0.1),(2.0,-0.2),(2.1,0.3),(2.2,0.0),(2.3,-0.2),(2.4,0.25),(2.5,0.0),(2.6,0.3),(2.7,-0.3),(2.8,0.0),(2.1,-0.35),(1.85,-0.4),(2.45,-0.45),(2.25,0.45),(1.95,0.35),(3.3,1.0),(3.4,0.7),(3.45,1.45),(3.55,1.25),(3.65,1.6),(3.3,1.6),(3.2,1.35),(3.4,1.8),
(4.35,2.85),(4.15,2.9),(4.05,3.0),(4.15,2.35),(4.45,1.4),(4.6,1.0),(4.55,0.55),(4.6,0.2),(5.05,0.1),(5.05,3.1),(5.0,2.9),(5.95,2.1),(6.4,1.85),(6.35,1.55),(6.6,1.3),(6.45,3.2),(7.15,2.9),(1.5,1.5),(1.2,1.4),(0.8,1.8),(2.7,-0.4),(2.45,-1.05),(2.35,-1.35),(1.55,-0.15),
]
exb_red = [
(-3.25,0.0),(-2.95,0.0),(-2.65,0.0),(-2.35,0.0),(-2.05,0.0),(-1.8,1.55),(-1.65,1.5),(-1.6,1.4),(-1.2,1.3),(-1.0,1.6),(-0.75,1.15),(-0.4,1.75),(-0.25,1.2),(0.0,1.8),(0.15,2.3),(0.25,2.35),(0.3,2.1),(0.6,1.9),(0.85,2.25),(0.88,2.9),(1.0,1.8),(1.65,3.2),(1.5,2.4),(1.75,2.3),(2.2,4.0),(2.4,3.95),(2.45,3.3),(2.4,3.0),(2.55,2.6),(2.6,2.05),(2.85,1.9),(3.0,2.6),(3.2,3.2),(3.3,3.1),(3.35,2.9),(3.95,3.95),(4.3,3.9),(3.95,2.95),(4.0,2.45),(4.65,2.4),(4.7,2.55),(4.9,1.5),(4.55,1.35),(5.15,1.35),(5.3,0.95),(5.3,0.05),(5.5,0.6),(5.55,-0.1),(5.75,2.3),(5.85,1.9),(5.15,-1.7),(5.4,-1.7),
(-3.5,-1.15),(-4.25,-1.1),(-5.15,-1.9),(-3.8,-1.9),(-4.35,-2.1),(-2.7,-1.75),(-2.65,-2.1),(-2.45,-1.15),(-1.8,-1.35),(-0.85,-1.4),(-0.8,-1.95),(-0.85,-2.15),(0.1,-2.2),(0.15,-2.3),(0.4,-1.65),(0.7,-1.75),(0.95,-2.05),(0.95,-2.3),(0.9,-1.0),(1.2,-1.0),(1.25,-1.1),(1.35,-1.0),(1.7,-1.55),(2.4,-0.95),(3.05,-0.15),(-0.15,-0.95),(0.45,-0.7),(2.75,0.45),(3.1,0.55),(4.0,1.0),
(-0.55,0.95),(-0.2,1.5),(0.05,1.3),(0.4,1.75),(0.75,1.65),(1.1,2.1),(1.35,1.9),(1.7,1.85),(2.0,2.1),(2.25,1.75),(2.4,1.55),(2.6,1.4),(2.7,1.7),(2.85,1.45),(2.95,1.7),(3.05,1.35),(2.6,0.95),(2.8,0.9),(2.95,0.95),(3.1,1.15),(2.5,0.55),(2.3,0.75),(2.05,0.35),(1.75,-0.1),(1.5,-0.45),(1.1,-0.15),
(0.3,1.55),(0.55,1.45),(0.9,1.6),(1.2,1.85),(1.55,1.7),(1.85,1.6),(2.1,1.55),(2.35,1.3),(2.55,1.15),(2.7,1.2),(2.9,1.2),(1.6,2.0),(0.95,1.95),(2.05,2.45),(2.3,2.3),(2.65,1.95),
]
exb_red_core = [
(1.55,[1.2,1.4,1.6]),
(1.37,[0.9,1.0,1.1,1.2,1.3,1.4,1.5,1.6,1.7,1.8,1.9]),
(1.19,[0.2,0.3,0.4,0.5,0.6,0.7,0.8,0.9,1.0,1.1,1.2,1.3,1.4,1.5,1.6,1.7,1.8,1.9,2.0,2.2]),
(1.01,[-0.1,0.0,0.1,0.2,0.3,0.4,0.5,0.6,0.7,0.8,0.9,1.0,1.1,1.2,1.3,1.4,1.5,1.6,1.7,1.8,1.9,2.0,2.1,2.3]),
(0.83,[-0.4,-0.3,-0.2,-0.1,0.0,0.1,0.2,0.3,0.4,0.5,0.6,0.7,0.8,0.9,1.0,1.1,1.2,1.3,1.4,1.5,1.6,1.7,1.8,1.9,2.0,2.2]),
(0.65,[-0.7,-0.6,-0.5,-0.4,-0.3,-0.2,-0.1,0.0,0.1,0.2,0.3,0.4,0.5,0.6,0.7,0.8,0.9,1.0,1.1,1.2,1.3,1.4,1.5,1.6,1.7,1.8,1.9,2.1]),
(0.47,[-1.0,-0.9,-0.8,-0.7,-0.6,-0.5,-0.4,-0.3,-0.2,-0.1,0.0,0.1,0.2,0.3,0.4,0.5,0.6,0.7,0.8,0.9,1.0,1.1,1.2,1.3,1.4,1.5,1.6,1.7,1.8]),
(0.29,[-1.3,-1.2,-1.1,-1.0,-0.9,-0.8,-0.7,-0.6,-0.5,-0.4,-0.3,-0.2,-0.1,0.0,0.1,0.2,0.3,0.4,0.5,0.6,0.7,0.8,0.9,1.0,1.1,1.2,1.3,1.4,1.5,1.7]),
(0.11,[-1.8,-1.7,-1.6,-1.5,-1.4,-1.3,-1.2,-1.1,-1.0,-0.9,-0.8,-0.7,-0.6,-0.5,-0.4,-0.3,-0.2,-0.1,0.0,0.1,0.2,0.3,0.4,0.5,0.6,0.7,0.8,0.9,1.0,1.1,1.2,1.4]),
(-0.07,[-1.7,-1.6,-1.5,-1.4,-1.3,-1.2,-1.1,-1.0,-0.9,-0.8,-0.7,-0.6,-0.5,-0.4,-0.3,-0.2,-0.1,0.0,0.1,0.2,0.3,0.4,0.5,0.6,0.7,0.8,0.9,1.1]),
(-0.25,[-1.4,-1.3,-1.2,-1.1,-1.0,-0.9,-0.8,-0.7,-0.6,-0.5,-0.4,-0.3,-0.2,-0.1,0.0,0.1,0.2,0.3,0.4,0.5,0.6,0.8]),
(-0.43,[-0.9,-0.8,-0.7,-0.6,-0.5,-0.4,-0.3,-0.2,-0.1,0.0,0.1,0.2,0.3,0.5]),
(-0.61,[-0.6,-0.5,-0.4,-0.3,-0.2,-0.1,0.0]),
]

legend_labels = ['0.8 MA', '0.4 MA']
titles = ['Phase Velocity', 'Gundestrup', 'ExB']
line_x = np.array([-10, 10])
line_y = np.array([-6, 6])
x_ticks = [-10, -5, 0, 5, 10]
x_minor = [-9, -8, -7, -6, -4, -3, -2, -1, 1, 2, 3, 4, 6, 7, 8, 9]
y_ticks_phase = [-6, -4, -2, 0, 2, 4, 6]
y_minor_phase = [-5.5, -5, -4.5, -3.5, -3, -2.5, -1.5, -1, -0.5, 0.5, 1, 1.5, 2.5, 3, 3.5, 4.5, 5, 5.5]
y_ticks_gund = [0, 5, 10]
y_minor_gund = [-2, -1, 1, 2, 3, 4, 6, 7, 8, 9, 11, 12]

FIG_W, FIG_H = 1068, 1422
panels = [
    # title, top px, bottom px, ylim, ticks, minor, ylabel x px, green, green core, red, red core
    (titles[0], 40, 385, (-6, 6), y_ticks_phase, y_minor_phase, 26, phase_green, [], phase_red, phase_red_core),
    (titles[1], 525, 871, (-3, 13), y_ticks_gund, y_minor_gund, 20, gund_green, gund_green_core, gund_red, gund_red_core),
    (titles[2], 1013, 1359, (-6, 6), y_ticks_phase, y_minor_phase, 26, exb_green, [], exb_red, exb_red_core),
]


def points(loose, rows):
    xs = [p[0] for p in loose]
    ys = [p[1] for p in loose]
    for y, row in rows:
        xs += row
        ys += [y] * len(row)
    return xs, ys


fig = plt.figure(figsize=(FIG_W / 100, FIG_H / 100), dpi=100)

for i, (title, top, bot, ylim, yt, ym, ylab_x, green, green_core, red, red_core) in enumerate(panels):
    ax = fig.add_axes([80 / FIG_W, 1 - bot / FIG_H, 966 / FIG_W, (bot - top) / FIG_H])
    ax.set_xlim(-10, 10)
    ax.set_ylim(*ylim)

    # reference lines sit under the marks
    ax.plot(line_x, line_y, color='k', lw=1.9, dashes=(7.5, 6), zorder=2)
    ax.axhline(0, color='k', lw=2, dashes=(1, 2.6), zorder=2)
    ax.axvline(0, color='k', lw=2, dashes=(1, 2.6), zorder=2)

    for (loose, rows), col in (((green, green_core), '#00ff00'), ((red, red_core), '#ff0000')):
        xs, ys = points(loose, rows)
        ax.plot(xs, ys, ls='none', marker='D', ms=8.8, mfc='none',
                mec=col, mew=1.9, clip_on=False, zorder=3)

    ax.set_xticks(x_ticks)
    ax.set_xticks(x_minor, minor=True)
    ax.set_yticks(yt)
    ax.set_yticks(ym, minor=True)
    ax.set_xticklabels([str(v) for v in x_ticks])
    ax.set_yticklabels([str(v) for v in yt])
    ax.tick_params(axis='x', which='major', direction='in', top=True, length=5, width=2,
                   labelsize=17.5, pad=10.5)
    ax.tick_params(axis='x', which='minor', direction='in', top=True, length=2.2, width=2)
    ax.tick_params(axis='y', which='major', direction='in', right=True, length=13, width=2,
                   labelsize=17.5, pad=5)
    ax.tick_params(axis='y', which='minor', direction='in', right=True, length=6.5, width=2)
    for sp in ax.spines.values():
        sp.set_linewidth(2.2)

    # end labels sit inside the axis range
    if ylim[0] == -6:
        labs = ax.get_yticklabels()
        labs[0].set_transform(labs[0].get_transform() + ScaledTranslation(0, 5.8 / 72, fig.dpi_scale_trans))
        labs[-1].set_transform(labs[-1].get_transform() + ScaledTranslation(0, -4.3 / 72, fig.dpi_scale_trans))

    fig.text(563 / FIG_W, 1 - (top - 20) / FIG_H, title, ha='center', va='center', fontsize=21)
    fig.text(563 / FIG_W, 1 - (bot + 51) / FIG_H, 'ASP Velocity (km/s, elec-dia)',
             ha='center', va='center', fontsize=17.5)
    fig.text(ylab_x / FIG_W, 1 - (top + bot) / 2 / FIG_H, 'FSP_velocity (km/s, elec-dia)',
             ha='center', va='center', rotation=90, fontsize=17.5)

    if i == 2:
        ax.text(-8, 4, legend_labels[0], color='#ff0000', fontsize=35, va='baseline', zorder=5)
        ax.text(-8, 2, legend_labels[1], color='#00ff00', fontsize=35, va='baseline', zorder=5)

fig.savefig('out.png', dpi=100)
plt.close()
